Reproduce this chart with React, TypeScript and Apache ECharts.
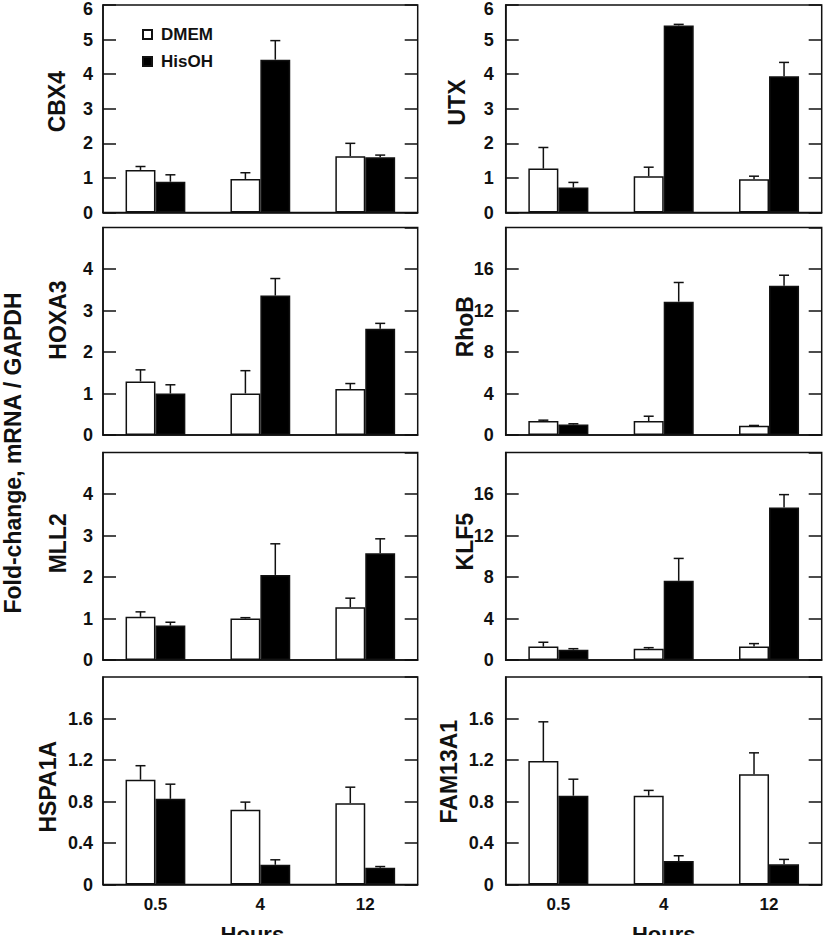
import React, { useEffect, useRef } from "react";
import * as echarts from "echarts";

// ---- data ----
const hours = ["0.5", "4", "12"];
const genes = ["CBX4", "UTX", "HOXA3", "RhoB", "MLL2", "KLF5", "HSPA1A", "FAM13A1"];

const cbx4Dmem = [1.23, 0.97, 1.63];
const cbx4DmemErr = [0.1, 0.18, 0.37];
const cbx4His = [0.89, 4.42, 1.6];
const cbx4HisErr = [0.2, 0.55, 0.06];

const utxDmem = [1.27, 1.05, 0.96];
const utxDmemErr = [0.61, 0.26, 0.09];
const utxHis = [0.72, 5.41, 3.94];
const utxHisErr = [0.15, 0.03, 0.4];

const hoxa3Dmem = [1.29, 1.0, 1.11];
const hoxa3DmemErr = [0.28, 0.55, 0.13];
const hoxa3His = [1.0, 3.36, 2.56];
const hoxa3HisErr = [0.21, 0.41, 0.13];

const rhobDmem = [1.34, 1.34, 0.89];
const rhobDmemErr = [0.09, 0.47, 0.03];
const rhobHis = [1.02, 12.85, 14.38];
const rhobHisErr = [0.06, 1.85, 1.02];

const mll2Dmem = [1.04, 1.0, 1.27];
const mll2DmemErr = [0.12, 0.02, 0.22];
const mll2His = [0.83, 2.05, 2.57];
const mll2HisErr = [0.08, 0.75, 0.35];

const klf5Dmem = [1.29, 1.09, 1.29];
const klf5DmemErr = [0.42, 0.1, 0.29];
const klf5His = [1.0, 7.63, 14.71];
const klf5HisErr = [0.09, 2.16, 1.23];

const hspDmem = [1.01, 0.72, 0.784];
const hspDmemErr = [0.135, 0.074, 0.154];
const hspHis = [0.826, 0.19, 0.161];
const hspHisErr = [0.141, 0.048, 0.012];

const famDmem = [1.19, 0.856, 1.062];
const famDmemErr = [0.378, 0.051, 0.207];
const famHis = [0.856, 0.226, 0.194];
const famHisErr = [0.159, 0.051, 0.048];

const dmemSets = [cbx4Dmem, utxDmem, hoxa3Dmem, rhobDmem, mll2Dmem, klf5Dmem, hspDmem, famDmem];
const dmemErrSets = [cbx4DmemErr, utxDmemErr, hoxa3DmemErr, rhobDmemErr, mll2DmemErr, klf5DmemErr, hspDmemErr, famDmemErr];
const hisSets = [cbx4His, utxHis, hoxa3His, rhobHis, mll2His, klf5His, hspHis, famHis];
const hisErrSets = [cbx4HisErr, utxHisErr, hoxa3HisErr, rhobHisErr, mll2HisErr, klf5HisErr, hspHisErr, famHisErr];

// axis ranges per panel
const yMaxes = [6, 6, 5, 20, 5, 20, 2, 2];
const yIntervals = [1, 1, 1, 4, 1, 4, 0.4, 0.4];
const showTopLabel = [true, true, false, false, false, false, false, false];

// ---- layout ----
const colLeft = [103, 505.7];
const colWidth = [314.7, 316];
const rowTop = [5, 227.5, 452.5, 677];
const rowHeight = 207.5;
const geneLabelPos = [
  [57.3, 101.7],
  [457.2, 102.5],
  [57.5, 320],
  [464.7, 326.7],
  [57.5, 543.3],
  [464.7, 541.7],
  [48, 786.7],
  [449.2, 771.7],
];
const CAT_GAP = 0.43;

const boldArial = "Liberation Sans, Arial, sans-serif";
const black = "#111";

export default function App() {
  const ref = useRef<HTMLDivElement>(null);
  useEffect(() => {
    if (!ref.current) return;
    const chart = echarts.init(ref.current, null, { renderer: "svg" });

    const grids: any[] = [];
    const xAxes: any[] = [];
    const yAxes: any[] = [];
    const series: any[] = [];
    const graphics: any[] = [];

    for (let i = 0; i < 8; i++) {
      const col = i % 2;
      const row = Math.floor(i / 2);
      const yMax = yMaxes[i];
      grids.push({
        left: colLeft[col],
        top: rowTop[row],
        width: colWidth[col],
        height: rowHeight,
        show: true,
        borderColor: black,
        borderWidth: 1.5,
        backgroundColor: "transparent",
        containLabel: false,
        outerBoundsMode: "none",
      });
      xAxes.push({
        type: "category",
        gridIndex: i,
        data: hours,
        axisTick: { show: false },
        axisLine: { show: true, lineStyle: { color: black, width: 1.5 } },
        axisLabel: {
          show: row === 3,
          margin: 11,
          fontFamily: boldArial,
          fontWeight: "bold",
          fontSize: 17,
          color: black,
        },
        name: row === 3 ? "Hours" : "",
        nameLocation: "middle",
        nameGap: 39,
        nameMoveOverlap: false,
        nameTextStyle: {
          fontFamily: boldArial,
          fontWeight: "bold",
          fontSize: 22,
          color: black,
          padding: col === 0 ? [0, 16, 0, 0] : 0,
        },
      });
      yAxes.push({
        type: "value",
        gridIndex: i,
        min: 0,
        max: yMax,
        interval: yIntervals[i],
        position: "left",
        splitLine: { show: false },
        axisLine: { show: true, lineStyle: { color: black, width: 1.5 } },
        axisTick: { show: true, inside: true, length: 13, lineStyle: { color: black, width: 1.5 } },
        axisLabel: {
          show: true,
          showMaxLabel: showTopLabel[i],
          margin: col === 0 ? 10 : 12,
          fontFamily: boldArial,
          fontWeight: "bold",
          fontSize: 18,
          color: black,
          formatter: (v: number) => (v === yMax ? "{top|" + v + "}" : String(v)),
          rich: {
            top: {
              padding: [8, 0, 0, 0],
              fontFamily: boldArial,
              fontWeight: "bold",
              fontSize: 18,
              color: black,
            },
          },
        },
      });
      yAxes.push({
        type: "value",
        gridIndex: i,
        min: 0,
        max: yMax,
        interval: yIntervals[i],
        position: "right",
        splitLine: { show: false },
        axisLine: { show: false },
        axisTick: { show: true, inside: true, length: 13, lineStyle: { color: black, width: 1.5 } },
        axisLabel: { show: false },
      });

      series.push({
        name: "DMEM",
        type: "bar",
        xAxisIndex: i,
        yAxisIndex: 2 * i,
        data: dmemSets[i],
        barGap: "0%",
        barCategoryGap: CAT_GAP * 100 + "%",
        itemStyle: { color: "#fff", borderColor: black, borderWidth: 1.5 },
        emphasis: { disabled: true },
      });
      series.push({
        name: "HisOH",
        type: "bar",
        xAxisIndex: i,
        yAxisIndex: 2 * i,
        data: hisSets[i],
        barGap: "0%",
        barCategoryGap: CAT_GAP * 100 + "%",
        itemStyle: { color: "#000", borderColor: black, borderWidth: 1.5 },
        emphasis: { disabled: true },
      });

      const errData: number[][] = [];
      for (let k = 0; k < hours.length; k++) {
        errData.push([k, dmemSets[i][k], dmemErrSets[i][k], -1]);
        errData.push([k, hisSets[i][k], hisErrSets[i][k], 1]);
      }
      series.push({
        type: "custom",
        xAxisIndex: i,
        yAxisIndex: 2 * i,
        data: errData,
        z: 5,
        encode: { x: 0, y: 1 },
        renderItem: (params: any, api: any) => {
          const ci = api.value(0);
          const v = api.value(1);
          const e = api.value(2);
          const side = api.value(3);
          const base = api.coord([ci, v]);
          const top = api.coord([ci, v + e]);
          const band = api.size([1, 0])[0];
          const bw = (band * (1 - CAT_GAP)) / 2;
          const x = base[0] + (side * bw) / 2;
          const st = { stroke: black, lineWidth: 1.5 };
          return {
            type: "group",
            children: [
              { type: "line", shape: { x1: x, y1: base[1], x2: x, y2: top[1] }, style: st },
              { type: "line", shape: { x1: x - 5, y1: top[1], x2: x + 5, y2: top[1] }, style: st },
            ],
          };
        },
      });

      graphics.push({
        type: "text",
        x: geneLabelPos[i][0],
        y: geneLabelPos[i][1],
        rotation: Math.PI / 2,
        style: {
          text: genes[i],
          fontFamily: boldArial,
          fontWeight: "bold",
          fontSize: 23,
          fill: black,
          align: "center",
          verticalAlign: "middle",
        },
      });
    }

    graphics.push({
      type: "text",
      x: 12.5,
      y: 453,
      rotation: Math.PI / 2,
      style: {
        text: "Fold-change, mRNA / GAPDH",
        fontFamily: boldArial,
        fontWeight: "bold",
        fontSize: 23,
        fill: black,
        align: "center",
        verticalAlign: "middle",
      },
    });

    chart.setOption({
      animation: false,
      backgroundColor: "#fff",
      grid: grids,
      xAxis: xAxes,
      yAxis: yAxes,
      series,
      graphic: graphics,
      legend: {
        data: ["DMEM", "HisOH"],
        orient: "vertical",
        left: 137,
        top: 21,
        itemWidth: 9,
        itemHeight: 9,
        itemGap: 10,
        icon: "rect",
        selectedMode: false,
        textStyle: {
          fontFamily: boldArial,
          fontWeight: "bold",
          fontSize: 17,
          color: black,
          padding: [0, 0, 0, 4],
        },
      },
    });
    return () => chart.dispose();
  }, []);

  return (
    <div
      ref={ref}
      style={{ position: "fixed", left: 0, top: 0, width: 825, height: 935, background: "#fff" }}
    />
  );
}
